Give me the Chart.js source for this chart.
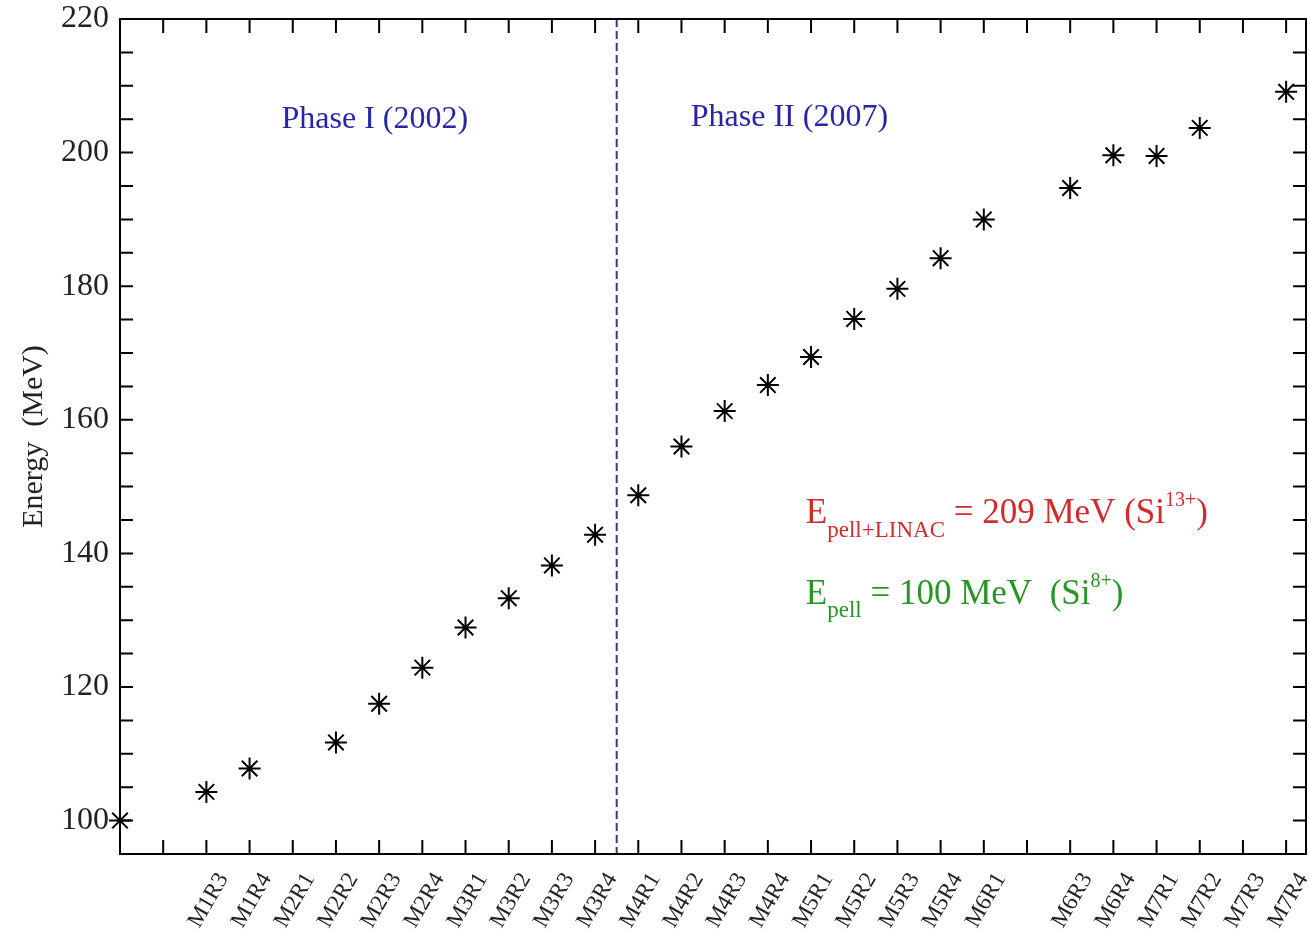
<!DOCTYPE html>
<html>
<head>
<meta charset="utf-8">
<script src="https://cdn.jsdelivr.net/npm/chart.js@4.4.1/dist/chart.umd.min.js"></script>
<style>
  html, body { margin: 0; padding: 0; background: #fff; }
  #wrap { width: 1310px; height: 931px; }
</style>
</head>
<body>
<div id="wrap"><canvas id="energyChart" width="1310" height="931"></canvas></div>
<script>
// run names along the x axis (index = position), "" where a tick has no label
const runLabels = ["", "", "M1R3", "M1R4", "M2R1", "M2R2", "M2R3", "M2R4", "M3R1", "M3R2",
  "M3R3", "M3R4", "M4R1", "M4R2", "M4R3", "M4R4", "M5R1", "M5R2", "M5R3", "M5R4",
  "M6R1", "", "M6R3", "M6R4", "M7R1", "M7R2", "M7R3", "M7R4"];

// energy in MeV, null = no point at that run
const energyMeV = [100, null, 104.3, 107.8, null, 111.7, 117.5, 122.9, 128.9, 133.3,
  138.2, 142.8, 148.7, 156.0, 161.3, 165.2, 169.4, 175.1, 179.6, 184.2,
  190.0, null, 194.7, 199.6, 199.5, 203.7, null, 209.1];

const yTickLabels = [100, 120, 140, 160, 180, 200, 220];
const yMinorStep = 5;
const phaseSplit = 11.5;   // dashed line between M3R4 and M4R1

const serif = '"Liberation Serif", "Times New Roman", serif';

const points = [];
energyMeV.forEach((e, i) => { if (e !== null) points.push({ x: i, y: e }); });

// draws text made of parts with sub/superscripts
function drawRich(ctx, x, y, parts, color) {
  let cx = x;
  ctx.fillStyle = color;
  ctx.textAlign = 'left';
  ctx.textBaseline = 'alphabetic';
  parts.forEach(p => {
    ctx.font = p.size + 'px ' + serif;
    ctx.fillText(p.text, cx, y + (p.dy || 0));
    cx += ctx.measureText(p.text).width;
  });
}

const framePlugin = {
  id: 'frame',
  beforeDatasetsDraw(chart) {
    const { ctx, chartArea: a, scales } = chart;
    const px = scales.x.getPixelForValue(phaseSplit);
    ctx.save();
    ctx.strokeStyle = '#3a3a78';
    ctx.lineWidth = 2;
    ctx.setLineDash([8, 4]);
    ctx.beginPath();
    ctx.moveTo(px, a.top);
    ctx.lineTo(px, a.bottom);
    ctx.stroke();
    ctx.restore();
  },
  afterDraw(chart) {
    const { ctx, chartArea: a, scales } = chart;
    const x = scales.x, y = scales.y;
    ctx.save();
    ctx.strokeStyle = '#000';
    ctx.lineWidth = 2;
    ctx.strokeRect(a.left, a.top, a.right - a.left, a.bottom - a.top);

    // inward tick marks on all four sides
    const tl = 14;
    ctx.beginPath();
    for (let i = 1; i < runLabels.length; i++) {
      const p = x.getPixelForValue(i);
      ctx.moveTo(p, a.bottom); ctx.lineTo(p, a.bottom - tl);
      ctx.moveTo(p, a.top); ctx.lineTo(p, a.top + tl);
    }
    for (let v = y.min + yMinorStep; v < y.max; v += yMinorStep) {
      const p = y.getPixelForValue(v);
      ctx.moveTo(a.left, p); ctx.lineTo(a.left + 13, p);
      ctx.moveTo(a.right, p); ctx.lineTo(a.right - 13, p);
    }
    ctx.stroke();

    // phase labels
    ctx.font = '32px ' + serif;
    ctx.fillStyle = '#2626a6';
    ctx.textAlign = 'center';
    ctx.textBaseline = 'alphabetic';
    ctx.fillText('Phase I (2002)', x.getPixelForValue(5.9), y.getPixelForValue(203.7));
    ctx.fillText('Phase II (2007)', x.getPixelForValue(15.5), y.getPixelForValue(204.0));

    drawRich(ctx, x.getPixelForValue(15.88), y.getPixelForValue(144.6), [
      { text: 'E', size: 35 },
      { text: 'pell+LINAC', size: 23, dy: 14 },
      { text: ' = 209 MeV (Si', size: 35 },
      { text: '13+', size: 20, dy: -17 },
      { text: ')', size: 35 }
    ], '#d22b2b');

    drawRich(ctx, x.getPixelForValue(15.88), y.getPixelForValue(132.5), [
      { text: 'E', size: 35 },
      { text: 'pell', size: 23, dy: 13 },
      { text: ' = 100 MeV  (Si', size: 35 },
      { text: '8+', size: 20, dy: -17 },
      { text: ')', size: 35 }
    ], '#279627');
    ctx.restore();
  }
};

new Chart(document.getElementById('energyChart'), {
  type: 'scatter',
  data: {
    datasets: [{
      data: points,
      showLine: false,
      pointStyle: 'star',
      pointRadius: 11,
      pointHoverRadius: 11,
      borderColor: '#000',
      backgroundColor: '#000',
      borderWidth: 2,
      clip: 14
    }]
  },
  options: {
    responsive: false,
    animation: false,
    events: [],
    layout: { autoPadding: false, padding: { top: 19, right: 4, left: 0, bottom: 0 } },
    plugins: { legend: { display: false }, tooltip: { enabled: false } },
    scales: {
      x: {
        type: 'linear',
        min: 0,
        max: 27.46,
        border: { display: false },
        grid: { display: false, drawTicks: false },
        afterBuildTicks(scale) {
          scale.ticks = runLabels.map((l, i) => ({ value: i }));
        },
        afterFit(scale) {
          scale.height = 77;
          scale.paddingLeft = 0;
          scale.paddingRight = 0;
        },
        ticks: {
          autoSkip: false,
          minRotation: 60,
          maxRotation: 60,
          padding: 14,
          labelOffset: 17,
          color: '#222',
          font: { family: serif, size: 23 },
          callback: (v) => runLabels[v] || ''
        }
      },
      y: {
        min: 95,
        max: 220,
        border: { display: false },
        grid: { display: false, drawTicks: false },
        afterFit(scale) {
          scale.width = 120;
          scale.paddingTop = 0;
          scale.paddingBottom = 0;
        },
        ticks: {
          autoSkip: false,
          stepSize: yMinorStep,
          padding: 11,
          color: '#222',
          font: { family: serif, size: 32 },
          callback: (v) => yTickLabels.includes(v) ? String(v) : ''
        },
        title: {
          display: true,
          text: 'Energy  (MeV)',
          color: '#222',
          font: { family: serif, size: 30 },
          padding: { top: 16, bottom: 0 }
        }
      }
    }
  },
  plugins: [framePlugin]
});
</script>
</body>
</html>
